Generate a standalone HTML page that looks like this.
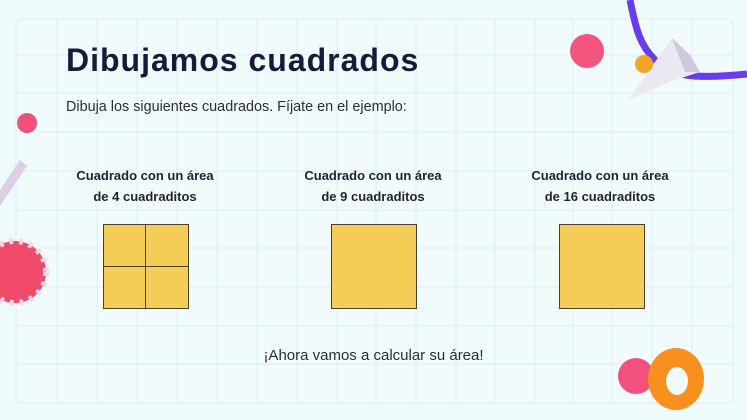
<!DOCTYPE html>
<html><head><meta charset="utf-8"><style>
body{margin:0;width:747px;height:420px;overflow:hidden;background:#eefafb;font-family:"Liberation Sans",sans-serif;position:relative}
.t{position:absolute;color:#1a1c3a;white-space:nowrap}
.lbl{position:absolute;width:200px;text-align:center;font-weight:bold;font-size:13px;line-height:21px;color:#1f2235}
.sq{position:absolute;top:224px;width:84px;height:83px;background:#f3cd55;border:1px solid #4a4030}
</style></head><body>
<svg width="747" height="420" style="position:absolute;left:0;top:0">
<rect x="16" y="19" width="717" height="384" rx="6" fill="#f1fbfc" stroke="#e0eef0"/>
<g stroke="#e0eff1" stroke-width="1">
<line x1="57" y1="19" x2="57" y2="403"/><line x1="97" y1="19" x2="97" y2="403"/><line x1="137" y1="19" x2="137" y2="403"/><line x1="177" y1="19" x2="177" y2="403"/><line x1="217" y1="19" x2="217" y2="403"/><line x1="257" y1="19" x2="257" y2="403"/><line x1="297" y1="19" x2="297" y2="403"/><line x1="337" y1="19" x2="337" y2="403"/><line x1="376" y1="19" x2="376" y2="403"/><line x1="416" y1="19" x2="416" y2="403"/><line x1="456" y1="19" x2="456" y2="403"/><line x1="495" y1="19" x2="495" y2="403"/><line x1="535" y1="19" x2="535" y2="403"/><line x1="573" y1="19" x2="573" y2="403"/><line x1="612" y1="19" x2="612" y2="403"/><line x1="652" y1="19" x2="652" y2="403"/><line x1="692" y1="19" x2="692" y2="403"/>
<line x1="16" y1="55" x2="733" y2="55"/><line x1="16" y1="93" x2="733" y2="93"/><line x1="16" y1="132" x2="733" y2="132"/><line x1="16" y1="171" x2="733" y2="171"/><line x1="16" y1="210" x2="733" y2="210"/><line x1="16" y1="248" x2="733" y2="248"/><line x1="16" y1="287" x2="733" y2="287"/><line x1="16" y1="326" x2="733" y2="326"/><line x1="16" y1="364" x2="733" y2="364"/>
</g>
<path d="M630 0 C636 30,640 45,655 60 C670 75,690 80,747 74" stroke="#6a3cf0" stroke-width="7" fill="none"/>
<polygon points="628,100 672,38 690,55 700,72 675,80" fill="#ece8f2"/>
<polygon points="672,38 690,55 700,72 685,72" fill="#cfc8dc"/>
<circle cx="644" cy="64" r="9" fill="#f3a623"/>
<circle cx="587" cy="51" r="17" fill="#f2557e"/>
<circle cx="27" cy="123" r="10" fill="#f0507a"/>
<polygon points="20,160 27,166 0,206 0,190" fill="#ddd0e6"/>
<circle cx="15" cy="272" r="31" fill="#f04a6a"/>
<circle cx="15" cy="272" r="31" fill="none" stroke="#ffd6de" stroke-width="6" stroke-dasharray="4 6"/>
<circle cx="636" cy="376" r="18" fill="#f2507f"/>
<ellipse cx="676" cy="379" rx="28" ry="31" fill="#f98f1d"/>
<ellipse cx="677" cy="381" rx="11" ry="14" fill="#f1fbfc"/>
</svg>
<div class="t" style="left:66px;top:42px;font-size:32px;font-weight:bold;letter-spacing:1px;color:#171a3b">Dibujamos cuadrados</div>
<div class="t" style="left:66px;top:99px;font-size:14.4px;color:#2a2c3e">Dibuja los siguientes cuadrados. Fíjate en el ejemplo:</div>
<div class="lbl" style="left:45px;top:165px">Cuadrado con un área<br>de 4 cuadraditos</div>
<div class="lbl" style="left:273px;top:165px">Cuadrado con un área<br>de 9 cuadraditos</div>
<div class="lbl" style="left:500px;top:165px">Cuadrado con un área<br>de 16 cuadraditos</div>
<div class="sq" style="left:103px"><div style="position:absolute;left:41px;top:0;width:1px;height:83px;background:#4a4030"></div><div style="position:absolute;left:0;top:41px;width:84px;height:1px;background:#4a4030"></div></div>
<div class="sq" style="left:331px"></div>
<div class="sq" style="left:559px"></div>
<div class="t" style="left:0;width:747px;text-align:center;top:347px;font-size:15px;color:#2a2c3e">¡Ahora vamos a calcular su área!</div>
</body></html>
